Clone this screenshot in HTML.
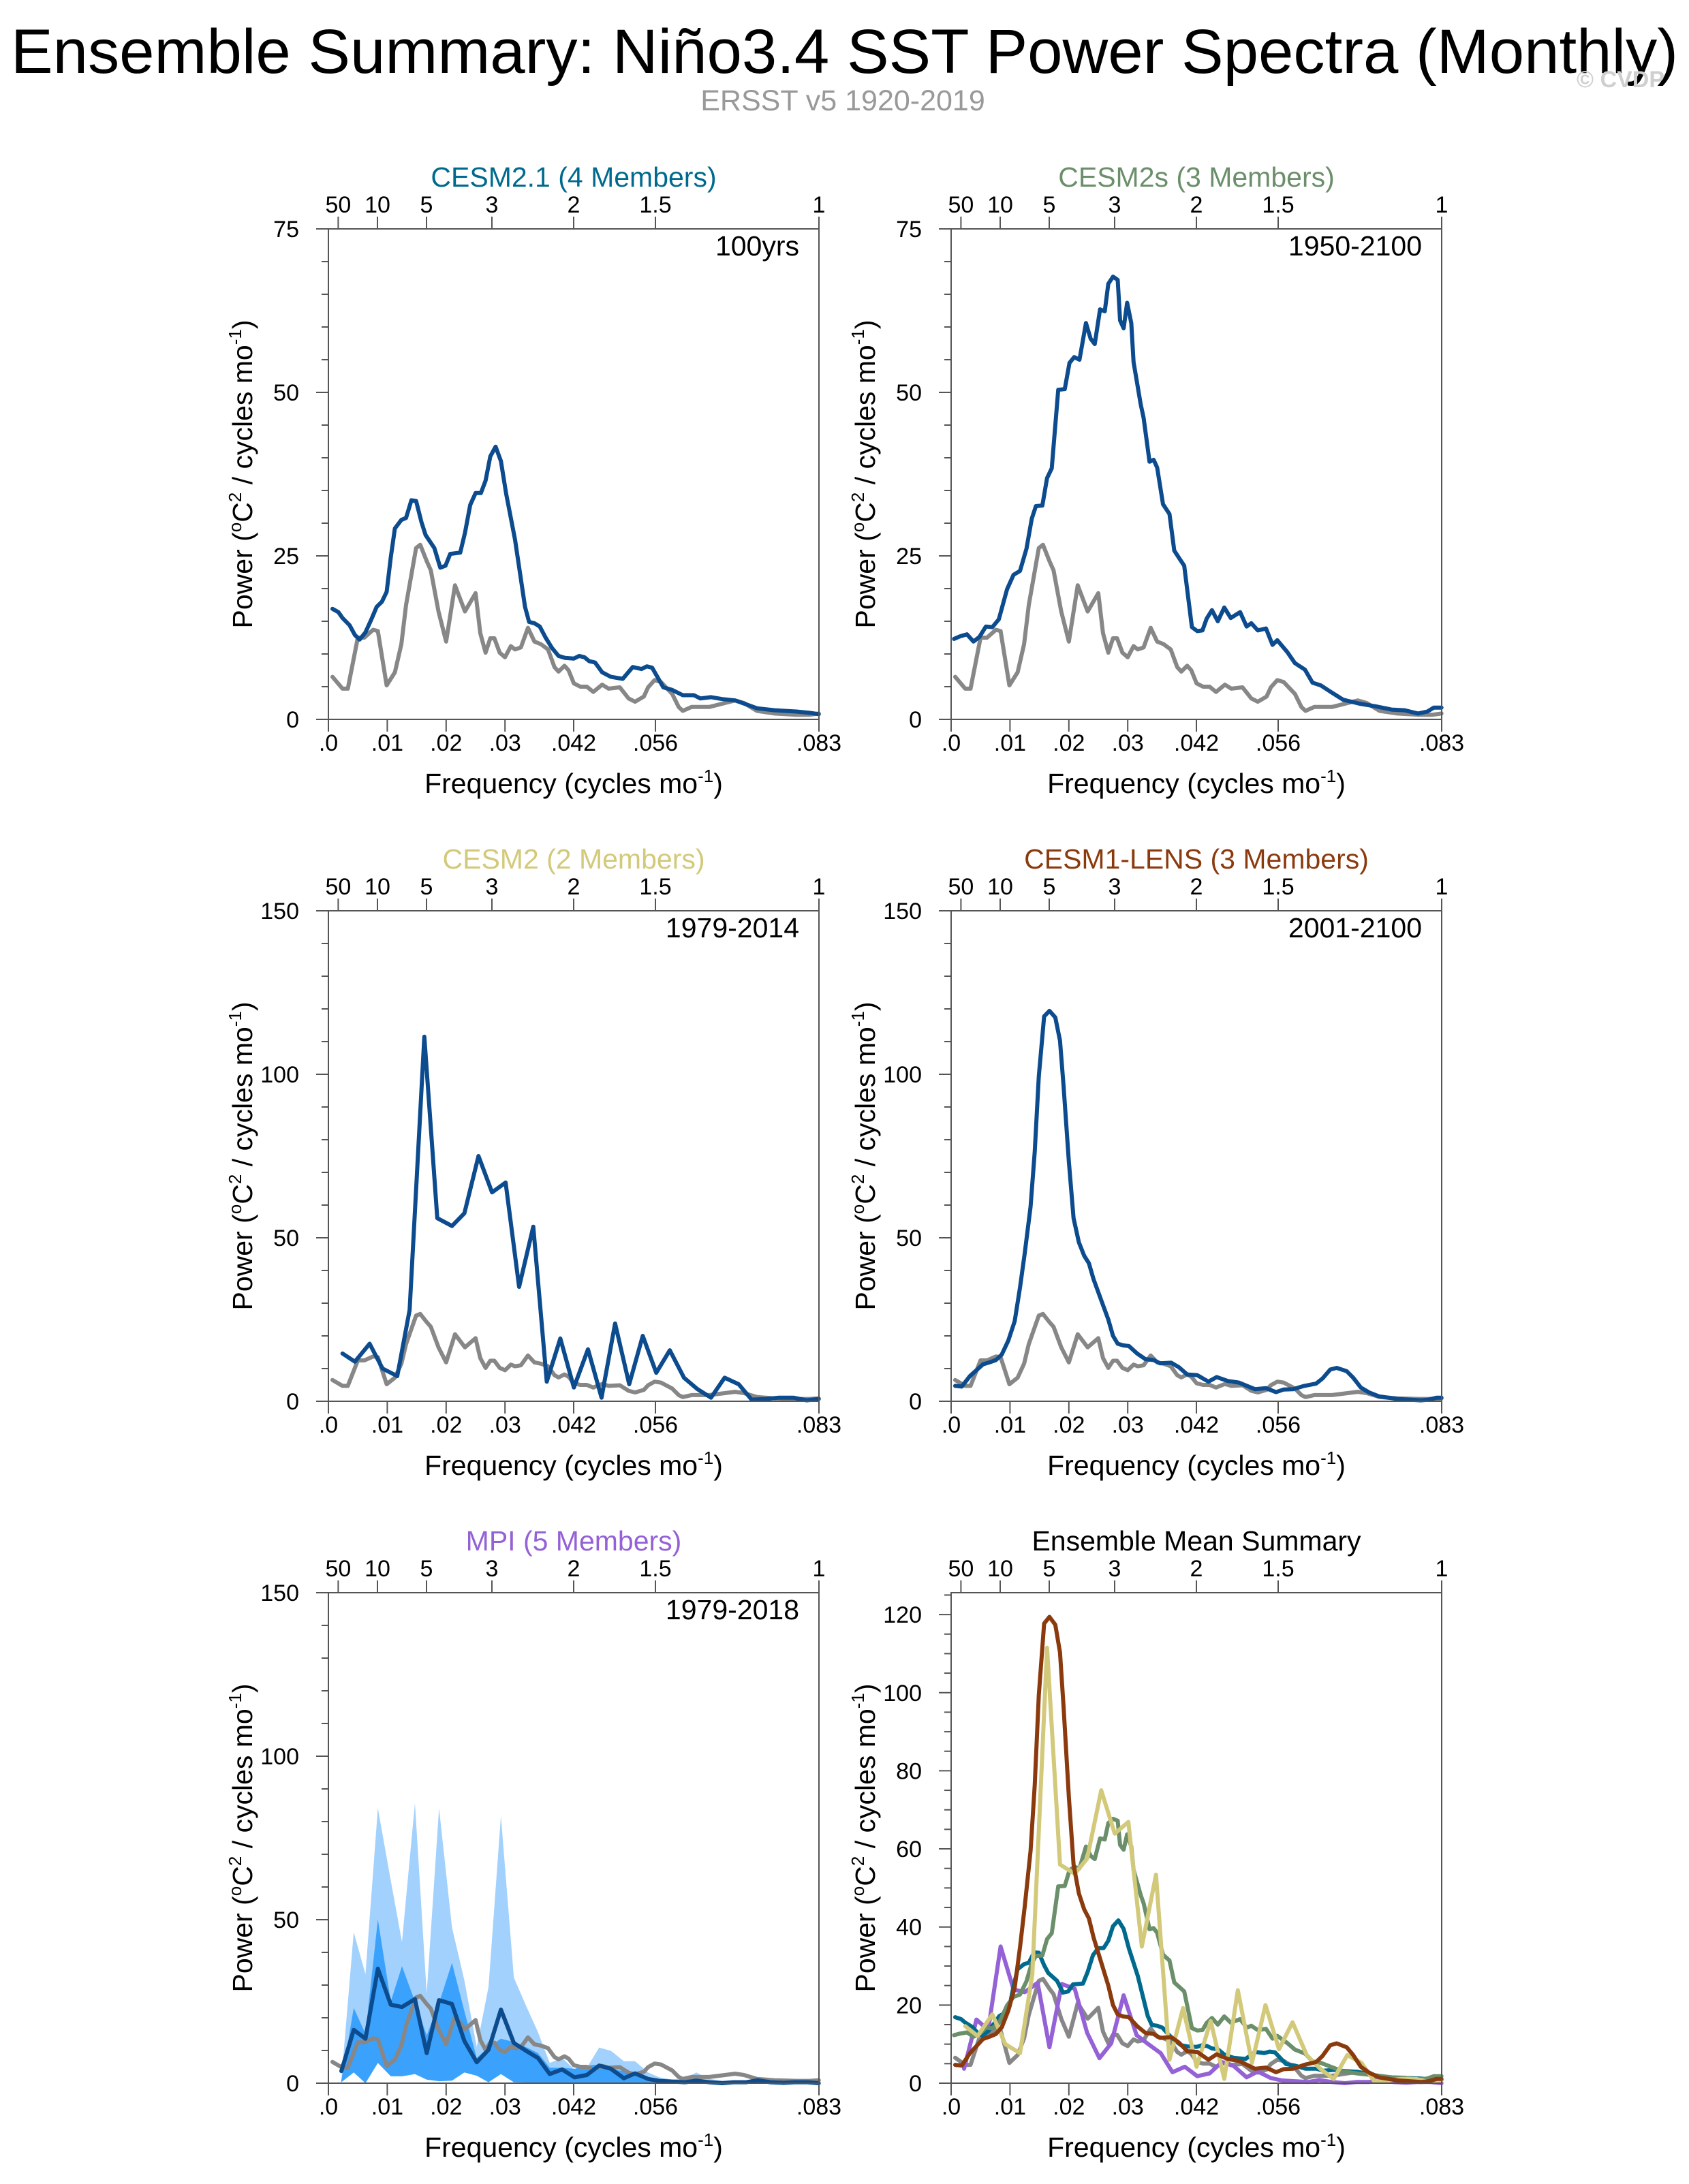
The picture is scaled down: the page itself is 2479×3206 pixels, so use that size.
<!DOCTYPE html>
<html><head><meta charset="utf-8"><title>Ensemble Summary Niño3.4 SST Power Spectra</title>
<style>html,body{margin:0;padding:0;background:#fff}svg{display:block}text{font-family:"Liberation Sans",Arial,sans-serif}</style>
</head><body>
<svg id="fig" xmlns="http://www.w3.org/2000/svg" width="2479" height="3206" viewBox="0 0 2479 3206">
<rect width="2479" height="3206" fill="#fff"/>
<text x="16" y="107" font-size="92" textLength="2447" lengthAdjust="spacingAndGlyphs" fill="#000">Ensemble Summary: Niño3.4 SST Power Spectra (Monthly)</text>
<text x="1237" y="162" font-size="43" fill="#999" text-anchor="middle">ERSST v5 1920-2019</text>
<text x="2443" y="128" font-size="34" font-weight="bold" fill="#cfcfcf" text-anchor="end">© CVDP</text>
</svg>
<script>
// ---- data (frequency in cycles/month, power) ----
const obsF=[.0007,.0024,.0033,.005,.0061,.0076,.0084,.0099,.0113,.0124,.0132,.0149,.0156,.0167,.0174,.0187,.02,.0215,.0232,.025,.0258,.0267,.0275,.0282,.0291,.03,.031,.0317,.0327,.0339,.035,.0361,.0373,.0384,.0391,.0401,.0408,.0417,.0428,.0439,.045,.0465,.0476,.0495,.051,.0521,.0536,.0543,.0554,.0565,.0584,.0595,.0602,.0617,.0647,.0669,.0691,.0706,.0728,.0758,.0795,.0817,.0833];
const obsV=[6.5,4.7,4.7,12.5,12.5,13.7,13.5,5.2,7.2,11.5,17.5,26.2,26.7,24.2,22.8,16.5,11.9,20.5,16.5,19.3,13.2,10.2,12.4,12.4,10.2,9.5,11.2,10.7,11,14,11.9,11.5,10.7,8,7.3,8.2,7.5,5.5,5,5,4.2,5.3,4.7,4.9,3.2,2.7,3.5,4.9,6,5.7,3.9,1.9,1.3,1.9,1.9,2.4,2.9,2.5,1.3,0.9,0.7,0.7,0.9];
const c21F=[.0007,.0017,.0024,.0036,.0045,.0053,.0063,.0073,.0082,.0091,.0099,.0106,.0113,.0124,.0132,.0141,.0149,.0158,.0165,.018,.019,.0199,.0207,.0224,.0232,.0241,.025,.0259,.0267,.0275,.0284,.0293,.0302,.0317,.0334,.0341,.035,.0359,.0369,.038,.0391,.0402,.0417,.0426,.0435,.0443,.0453,.0465,.048,.05,.0517,.0532,.0541,.055,.0569,.0584,.0602,.0621,.0632,.065,.0669,.0691,.0713,.0728,.0758,.0795,.0817,.0833];
const c21V=[16.9,16.4,15.5,14.4,12.9,12.2,13.3,15.3,17.2,18,19.5,24.8,29.2,30.5,30.8,33.5,33.4,30.2,28.2,26.2,23.2,23.5,25.3,25.5,28.5,32.8,34.6,34.6,36.5,40.2,41.7,39.5,34.5,27.5,17.2,14.9,14.7,14.2,12.5,10.9,9.7,9.4,9.3,9.7,9.5,8.9,8.7,7.2,6.5,6.2,8,7.7,8.1,7.9,4.9,4.5,3.7,3.7,3.2,3.4,3.1,2.9,2.2,1.7,1.4,1.2,1,0.8];
const c2sF=[.0005,.0015,.0027,.0038,.0048,.0059,.007,.0081,.0095,.0106,.0117,.0128,.0137,.0144,.0155,.0163,.0171,.0182,.0193,.0201,.0209,.0218,.0229,.0237,.0244,.0253,.0261,.0267,.0275,.0283,.0287,.0293,.0299,.0306,.031,.0322,.0327,.0337,.0344,.035,.036,.0371,.0379,.0387,.0396,.0409,.0418,.0427,.0434,.0443,.0453,.0464,.0475,.0491,.0502,.051,.0521,.0535,.0546,.0554,.0571,.0584,.0601,.0614,.0628,.0645,.0666,.0694,.0721,.0748,.077,.0793,.0809,.082,.0833];
const c2sV=[12.3,12.7,13,11.9,12.6,14.2,14.1,15.3,19.9,22.1,22.7,26.1,30.7,32.6,32.7,36.9,38.4,50.4,50.5,54.5,55.4,55,60.6,58.2,57.4,62.7,62.4,66.6,67.7,67.2,61,59.8,63.7,60.6,54.6,48.2,46.1,39.4,39.7,38.5,32.9,31.4,25.8,24.7,23.5,14.1,13.5,13.6,15.4,16.7,15,17.1,15.5,16.4,14.2,14.7,13.6,13.9,11.4,12.1,10.3,8.6,7.6,5.6,5.2,4.2,3,2.4,2,1.5,1.4,0.9,1.2,1.8,1.8];
const c2F=[.0024,.0045,.007,.0092,.0117,.0138,.0163,.0185,.021,.0231,.0255,.0278,.0301,.0324,.0348,.0371,.0394,.0417,.0441,.0464,.0487,.0511,.0534,.0557,.058,.0604,.0627,.065,.0673,.0697,.0719,.0743,.0765,.079,.0812,.0833];
const c2V=[14.6,12.1,17.6,10,7.7,27.9,111.5,56,53.6,57.5,75,63.9,66.9,35,53.4,6,19.2,4.2,15.9,1.1,23.8,5.2,20,8.7,15.6,7.2,3.7,1.1,7.2,5.2,0.5,0.7,1.1,1.1,0.3,0.7];
const c1F=[.0007,.0018,.0032,.0043,.0054,.0065,.0076,.0086,.0097,.0108,.0117,.0125,.0135,.0142,.0149,.0158,.0167,.0177,.0185,.0191,.02,.0208,.0217,.0226,.0234,.0242,.0256,.0267,.0275,.0283,.0292,.0302,.0316,.033,.0344,.0355,.0374,.0387,.0401,.0418,.0437,.0451,.047,.0489,.0516,.0535,.0552,.0565,.0581,.06,.062,.0631,.0644,.0655,.0672,.0683,.0696,.071,.0727,.0759,.0798,.0811,.0825,.0833];
const c1V=[4.7,4.5,7.7,9.5,11.3,11.9,12.6,14.3,18.5,24.5,34.8,45.2,59.5,76.3,99.4,117.7,119.4,117.4,110.3,96.5,73.3,56,48.6,44.5,42.2,37.3,30.4,25,20,17.6,17.1,16.9,14.6,12.9,12.6,11.6,11.8,10.4,8.2,8,6,7.4,6.2,5.7,3.7,4,2.8,3.6,3.7,4.7,5.4,7,9.7,10.2,9.2,7.2,4.2,2.7,1.5,0.7,0.3,0.5,1.1,1.1];
const mpiF=[.0022,.0043,.0063,.0084,.0106,.0125,.0147,.0167,.0188,.021,.0231,.0252,.0272,.0293,.0315,.0335,.0356,.0376,.0397,.0418,.0439,.046,.048,.0502,.0521,.0543,.0562,.0584,.0606,.0625,.0647,.0669,.0688,.071,.0729,.0751,.0773,.0792,.0814,.0833];
const mpiV=[3.7,16.3,13.6,35,24,23.3,25.7,9.2,25.4,24.2,12.9,6.4,10.2,22.5,12.3,10,7.7,2.8,4.2,1.8,2.5,5.4,4.4,1.5,3,1.3,0.7,0.5,0.3,0.8,0.3,0,0.3,0.3,0.9,0.3,0.1,0.3,0.3,0];
const mpiOuterHi=[1,46.2,33.3,84.1,61.9,43.2,85.6,27.4,84.1,47.6,31.4,11.1,29.4,81.7,32.3,24,15.6,6.2,7.7,4.2,4.7,10.9,9.9,6.7,6.7,3.3,1.8,1.1,1.5,3.3,1.3,0.8,0.8,0.8,0.7,0.6,0.5,0.5,0.4,0.3];
const mpiOuterLo=[0.3,3.3,0,6.2,2.1,2.1,2.8,1.1,0.6,0.8,3.3,2.3,0.3,2.8,0.3,0.2,0.2,0.2,0.2,0.2,0.2,0.2,0.2,0.1,0.1,0.1,0.1,0.1,0.1,0.1,0.1,0,0,0,0,0,0,0,0,0];
const mpiInnerHi=[0.8,23,15.1,50.1,25,35.8,25,14.6,24.5,36.8,22,7.7,11.1,13.6,12.6,11.1,9.2,4.7,4.7,4.4,5.4,5.7,4.2,3.7,3.3,1.3,0.6,0.6,0.5,0.5,0.4,0.4,0.4,0.3,0.3,0.3,0.3,0.2,0.2,0.2];
const mpiInnerLo=mpiOuterLo;
const xTickVals=[0,0.01,0.02,0.03,1/24,1/18,1/12];
const xTickLabels=[".0",".01",".02",".03",".042",".056",".083"];
const topPeriods=[50,10,5,3,2,1.5,1];
const topLabels=["50","10","5","3","2","1.5","1"];

// ---- layout ----
const NS="http://www.w3.org/2000/svg";
const svg=document.getElementById('fig');
const W=720,H=720,XMAX=1/12;
const BLUE="#0c4b8e",GRAY="#878787";
function mk(tag,attrs,parent){const e=document.createElementNS(NS,tag);for(const k in attrs)e.setAttribute(k,attrs[k]);(parent||svg).appendChild(e);return e;}

const panels=[
 {key:'cesm21',x0:482,y0:336,title:'CESM2.1 (4 Members)',tc:'#006a8e',period:'100yrs',ymax:75,major:25,minor:5},
 {key:'cesm2s',x0:1396,y0:336,title:'CESM2s (3 Members)',tc:'#6a8f6a',period:'1950-2100',ymax:75,major:25,minor:5},
 {key:'cesm2',x0:482,y0:1337,title:'CESM2 (2 Members)',tc:'#d3c97a',period:'1979-2014',ymax:150,major:50,minor:10},
 {key:'cesm1',x0:1396,y0:1337,title:'CESM1-LENS (3 Members)',tc:'#8b3a0e',period:'2001-2100',ymax:150,major:50,minor:10},
 {key:'mpi',x0:482,y0:2338,title:'MPI (5 Members)',tc:'#9461d6',period:'1979-2018',ymax:150,major:50,minor:10},
 {key:'summary',x0:1396,y0:2338,title:'Ensemble Mean Summary',tc:'#000',period:'',ymax:125.6,major:20,minor:5}
];

function drawPanel(p){
 const g=mk('g',{});
 
 
 const xs=f=>p.x0+f/XMAX*W;
 const ys=v=>p.y0+H-v/p.ymax*H;
 const line=(F,V,color,name,wid)=>{
  let d='';for(let i=0;i<F.length;i++)d+=(i?'L':'M')+xs(F[i]).toFixed(1)+' '+ys(V[i]).toFixed(1);
  const e=mk('path',{d:d,fill:'none',stroke:color,'stroke-width':wid||6,'stroke-linejoin':'round','stroke-linecap':'round'},g);
  
  
 };
 const band=(F,hi,lo,color,name)=>{
  let d='';for(let i=0;i<F.length;i++)d+=(i?'L':'M')+xs(F[i]).toFixed(1)+' '+ys(hi[i]).toFixed(1);
  for(let i=F.length-1;i>=0;i--)d+='L'+xs(F[i]).toFixed(1)+' '+ys(lo[i]).toFixed(1);
  const e=mk('path',{d:d+'Z',fill:color,stroke:'none'},g);
  
  
 };
 if(p.key==='mpi'){
  band(mpiF,mpiOuterHi,mpiOuterLo,'#a2d1fd','mpi-outer-range');
  band(mpiF,mpiInnerHi,mpiInnerLo,'#3aa2fd','mpi-inner-range');
 }
 if(p.key==='summary'){
  line(obsF,obsV,GRAY,'obs-line');
  line(mpiF,mpiV,'#9461d6','mpi-mean-line');
  line(c21F,c21V,'#006a8e','cesm21-mean-line');
  line(c2sF,c2sV,'#6a8f6a','cesm2s-mean-line');
  line(c2F,c2V,'#d3c97a','cesm2-mean-line');
  line(c1F,c1V,'#8b3a0e','cesm1-mean-line');
 } else {
  line(obsF,obsV,GRAY,'obs-line');
  const m={cesm21:[c21F,c21V],cesm2s:[c2sF,c2sV],cesm2:[c2F,c2V],cesm1:[c1F,c1V],mpi:[mpiF,mpiV]}[p.key];
  line(m[0],m[1],BLUE,'ensemble-mean-line');
 }
 const fr=mk('rect',{x:p.x0,y:p.y0,width:W,height:H,fill:'none',stroke:'#555','stroke-width':2},g);
 
 
 for(let v=0;v<=p.ymax+1e-6;v+=p.minor){
  const isMaj=Math.abs(v/p.major-Math.round(v/p.major))<1e-6;
  const y=ys(v);
  const t=mk('line',{x1:p.x0,x2:p.x0-(isMaj?18:10),y1:y,y2:y,stroke:'#555','stroke-width':2},g);
  
  
  if(isMaj){
   const l=mk('text',{x:p.x0-43,y:y+12,'font-size':34,'text-anchor':'end',fill:'#000'},g);
   l.textContent=String(Math.round(v));
   
   
  }
 }
 xTickVals.forEach((f,i)=>{
  const x=xs(f);
  const t=mk('line',{x1:x,x2:x,y1:p.y0+H,y2:p.y0+H+18,stroke:'#555','stroke-width':2},g);
  
  
  const l=mk('text',{x:x,y:p.y0+H+46,'font-size':34,'text-anchor':'middle',fill:'#000'},g);
  l.textContent=xTickLabels[i];
  
  
 });
 topPeriods.forEach((pr,i)=>{
  const x=xs(1/(12*pr));
  const t=mk('line',{x1:x,x2:x,y1:p.y0,y2:p.y0-18,stroke:'#555','stroke-width':2},g);
  
  
  const l=mk('text',{x:x,y:p.y0-24,'font-size':34,'text-anchor':'middle',fill:'#000'},g);
  l.textContent=topLabels[i];
  
  
 });
 const tt=mk('text',{x:p.x0+W/2,y:p.y0-62,'font-size':41,'text-anchor':'middle',fill:p.tc},g);
 tt.textContent=p.title;
 
 
 if(p.period){
  const pt=mk('text',{x:p.x0+W-29,y:p.y0+39,'font-size':41,'text-anchor':'end',fill:'#000'},g);
  pt.textContent=p.period;
  
  
 }
 const xl=mk('text',{x:p.x0+W/2,y:p.y0+H+108,'font-size':41,'text-anchor':'middle',fill:'#000'},g);
 
 
 xl.innerHTML='Frequency (cycles mo<tspan dy="-16" font-size="26">-1</tspan><tspan dy="16">)</tspan>';
 const yx=p.x0-112,yy=p.y0+H/2;
 const yl=mk('text',{x:yx,y:yy,'font-size':41,'text-anchor':'middle',fill:'#000',transform:'rotate(-90 '+yx+' '+yy+')'},g);
 
 
 yl.innerHTML='Power (<tspan dy="-16" font-size="26">o</tspan><tspan dy="16">C</tspan><tspan dy="-16" font-size="26">2</tspan><tspan dy="16"> / cycles mo</tspan><tspan dy="-16" font-size="26">-1</tspan><tspan dy="16">)</tspan>';
}
panels.forEach(drawPanel);
</script>
</body></html>
